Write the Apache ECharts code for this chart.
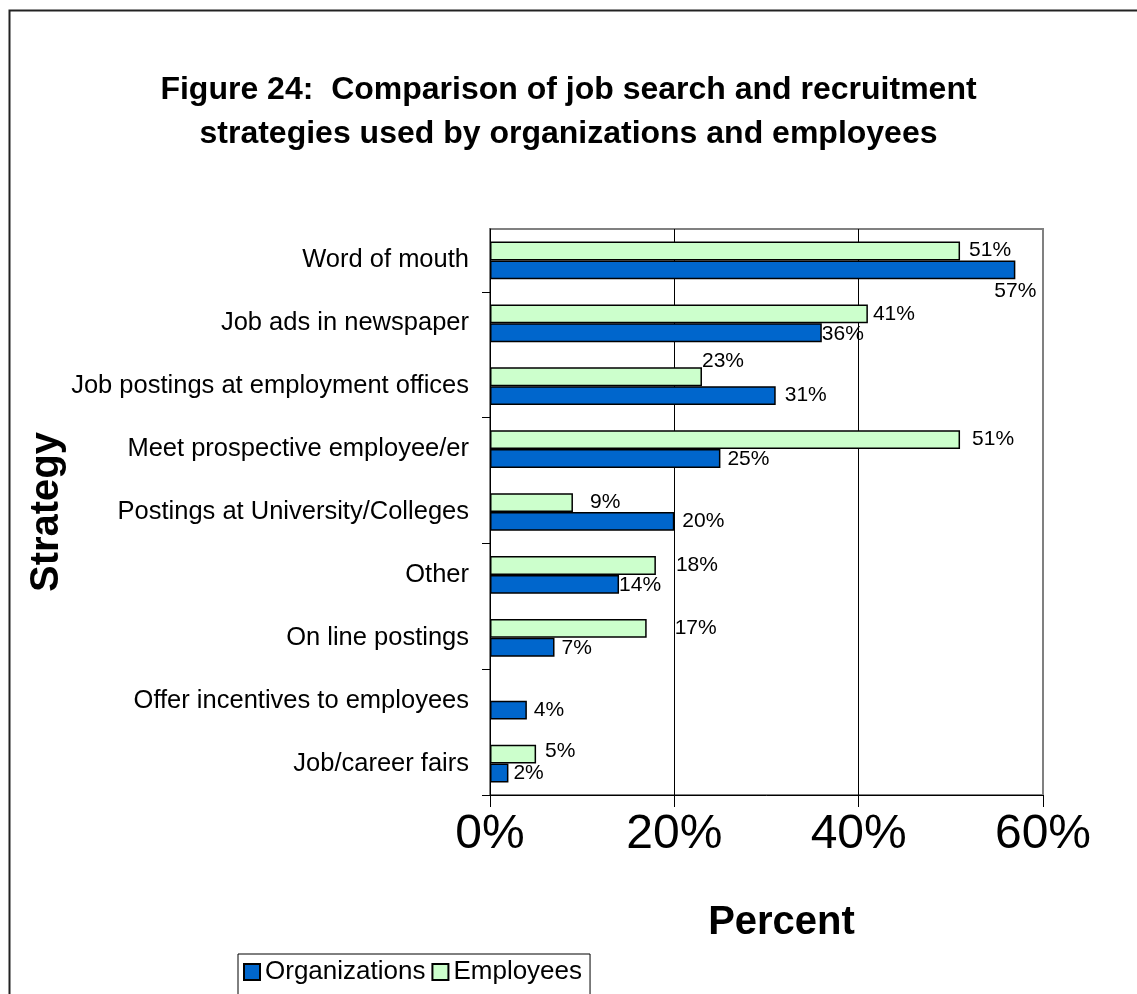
<!DOCTYPE html>
<html>
<head>
<meta charset="utf-8">
<title>Figure 24</title>
<script src="https://cdn.jsdelivr.net/npm/echarts@6/dist/echarts.min.js"></script>
<style>
  html, body { margin: 0; padding: 0; background: #fff; }
  #chart { width: 1137px; height: 994px; }
</style>
</head>
<body>
<div id="chart"></div>
<script>
// Strategies, listed top to bottom
const categories = [
  'Word of mouth',
  'Job ads in newspaper',
  'Job postings at employment offices',
  'Meet prospective employee/er',
  'Postings at University/Colleges',
  'Other',
  'On line postings',
  'Offer incentives to employees',
  'Job/career fairs'
];

// Percent of respondents using each strategy
const organizations = [57, 36, 31, 25, 20, 14, 7, 4, 2];
const employees     = [51, 41, 23, 51, 9, 18, 17, null, 5];

const xTicks = [0, 20, 40, 60];

// Small label nudges [dx, dy] so overlapping labels stay readable
const orgLabelNudge = [[-21, 21], [0, 1], [9, 0], [7, 1], [8, 0], [0, 1], [7, 1], [7, 0], [5, 0]];
const empLabelNudge = [[9, -1], [5, 0], [0, -16], [12, 0], [17, 0], [20, 0], [28, 0], [0, 0], [9, -3]];

const FONT = "'Liberation Sans', Arial, sans-serif";

function seriesData(values, nudges) {
  return values.map((v, i) => ({
    value: v,
    label: { offset: nudges[i] }
  }));
}

const chart = echarts.init(document.getElementById('chart'), null, { renderer: 'canvas' });

const labelBase = {
  show: true,
  position: 'right',
  distance: 0,
  color: '#000',
  fontFamily: FONT,
  fontSize: 21,
  formatter: p => (p.value == null ? '' : p.value + '%')
};

chart.setOption({
  backgroundColor: '#fff',
  animation: false,
  textStyle: { fontFamily: FONT },
  title: {
    text: 'Figure 24:  Comparison of job search and recruitment\nstrategies used by organizations and employees',
    left: 'center',
    top: 68,
    padding: [0, 0, 0, 9],
    textStyle: {
      fontFamily: FONT,
      fontSize: 32,
      fontWeight: 'bold',
      lineHeight: 44,
      color: '#000'
    }
  },
  legend: {
    data: ['Organizations', 'Employees'],
    left: 238,
    top: 954,
    orient: 'horizontal',
    icon: 'rect',
    itemWidth: 16,
    itemHeight: 16,
    itemGap: 6,
    borderColor: '#000',
    borderWidth: 1,
    padding: [5, 8, 30, 5],
    textStyle: { fontFamily: FONT, fontSize: 26, color: '#000' }
  },
  grid: {
    left: 490,
    right: 94,
    top: 229,
    bottom: 199,
    show: true,
    borderColor: '#808080',
    borderWidth: 2,
    backgroundColor: '#fff'
  },
  xAxis: {
    type: 'value',
    min: xTicks[0],
    max: xTicks[xTicks.length - 1],
    interval: xTicks[1] - xTicks[0],
    name: 'Percent',
    nameLocation: 'middle',
    nameGap: 108,
    nameTextStyle: {
      fontFamily: FONT, fontSize: 40, fontWeight: 'bold', color: '#000',
      padding: [0, 0, 0, 30]
    },
    axisLine: { show: true, lineStyle: { color: '#000', width: 1 } },
    axisTick: { show: true, length: 12, lineStyle: { color: '#000', width: 1 } },
    axisLabel: {
      margin: 16,
      color: '#000',
      fontFamily: FONT,
      fontSize: 48,
      formatter: '{value}%'
    },
    splitLine: {
      show: true,
      lineStyle: { color: ['#000', '#000', '#000', '#808080'], width: 1 }
    }
  },
  yAxis: {
    type: 'category',
    data: categories,
    inverse: true,
    name: 'Strategy',
    nameLocation: 'middle',
    nameGap: 422,
    nameRotate: 90,
    nameTextStyle: { fontFamily: FONT, fontSize: 40, fontWeight: 'bold', color: '#000' },
    axisLine: { show: true, lineStyle: { color: '#000', width: 1 } },
    axisTick: {
      show: true,
      length: 8,
      interval: (idx) => idx % 2 === 1,
      lineStyle: { color: '#000', width: 1 }
    },
    axisLabel: {
      margin: 21,
      color: '#000',
      fontFamily: FONT,
      fontSize: 25.5,
      interval: 0
    }
  },
  series: [
    {
      name: 'Employees',
      type: 'bar',
      data: seriesData(employees, empLabelNudge),
      barGap: '0%',
      barCategoryGap: '40%',
      itemStyle: { color: '#CCFFCC', borderColor: '#000', borderWidth: 1.5 },
      label: labelBase
    },
    {
      name: 'Organizations',
      type: 'bar',
      data: seriesData(organizations, orgLabelNudge),
      barGap: '0%',
      barCategoryGap: '40%',
      itemStyle: { color: '#0066CC', borderColor: '#000', borderWidth: 1.5 },
      label: labelBase
    }
  ],
  graphic: [
    {
      // page frame, running off the right and bottom edges
      type: 'rect',
      silent: true,
      z: 100,
      shape: { x: 9.5, y: 10.5, width: 1200, height: 1100 },
      style: { fill: 'none', stroke: '#222', lineWidth: 2 }
    }
  ]
});
</script>
</body>
</html>
